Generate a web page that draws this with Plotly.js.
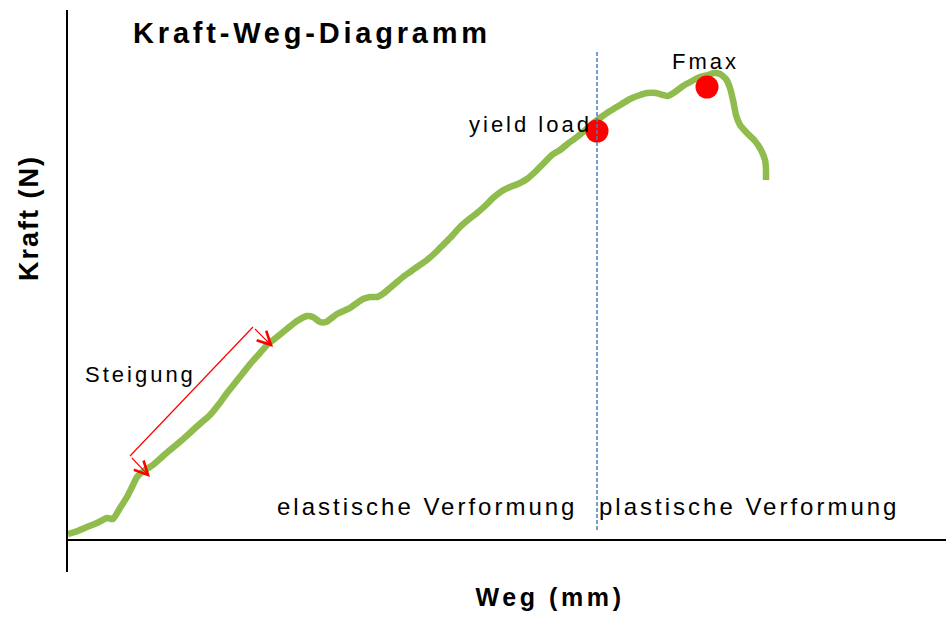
<!DOCTYPE html>
<html>
<head>
<meta charset="utf-8">
<script src="https://cdn.plot.ly/plotly-3.0.1.min.js"></script>
<style>
  html, body { margin: 0; padding: 0; background: #ffffff; overflow: hidden; }
  #chart { width: 946px; height: 617px; }
  .gtitle { letter-spacing: 3.8px; }
  .x2title { letter-spacing: 3.6px; }
  .y2title { letter-spacing: 2px; }
  .annotation-text { letter-spacing: 3px; }
</style>
</head>
<body>
<div id="chart"></div>
<script>
// ---- data (arbitrary units) ----
const weg = [0, 7, 19, 29, 39, 45, 52, 59, 64, 69, 77, 85, 94, 102, 114, 125, 134, 142, 151, 159,
  167, 175, 183, 192, 200, 209, 220, 229, 239, 245, 252, 258, 269, 282, 289, 295, 302, 309, 316, 322,
  329, 335, 342, 349, 359, 367, 375, 384, 392, 400, 409, 417, 425, 434, 442, 450, 459, 467, 475, 484,
  492, 502, 509, 515, 524, 532, 542, 552, 562, 572, 579, 588, 595, 600, 607, 615, 624, 632, 640, 646,
  652, 658, 662, 665, 668, 672, 679, 687, 693, 697, 698, 698];
const kraft = [6, 8, 13, 17, 22, 21, 32, 43, 53, 63, 70, 75, 83, 90, 100, 110, 118, 125, 136, 147,
  157, 167, 177, 187, 196, 203, 212, 219, 224, 223, 218, 218, 226, 232, 237, 241, 243, 243, 247, 252,
  258, 263, 268, 273, 280, 287, 295, 304, 313, 320, 327, 334, 342, 349, 353, 356, 361, 368, 376, 385,
  390, 398, 403, 408, 416, 422, 429, 435, 441, 445, 447, 447, 445, 444, 448, 454, 459, 463, 465, 467,
  466, 461, 452, 440, 425, 415, 407, 399, 390, 380, 370, 360];

const pointLabels = ['yield load', 'Fmax'];
const pointWeg = [529, 639];
const pointKraft = [409, 453];

const yieldLineWeg = 529;
const yieldLineKraft = [10, 490];

const slopeCornerWeg = [62, 185];
const slopeCornerKraft = [84, 213];
const slopeTipWeg = [82, 205];
const slopeTipKraft = [63, 193];

const regionLabels = ['elastische Verformung', 'plastische Verformung'];
const regionWeg = [359, 681];
const regionKraft = [34, 34];

const titleText = 'Kraft-Weg-Diagramm';
const xTitle = 'Weg (mm)';
const yTitle = 'Kraft (N)';
const slopeLabel = 'Steigung';

// ---- styling ----
const FONT = 'Liberation Sans, Arial, Helvetica, sans-serif';
const GREEN = '#8FBC4C';
const RED = '#FF0000';

const traces = [
  {
    type: 'scatter', mode: 'lines', x: weg, y: kraft,
    line: { color: GREEN, width: 6.5, shape: 'spline', smoothing: 0.5 }, hoverinfo: 'skip', cliponaxis: true
  },
  {
    type: 'scatter', mode: 'markers', x: pointWeg, y: pointKraft,
    marker: { color: RED, size: 23, line: { width: 0 } }, hoverinfo: 'skip', cliponaxis: false
  },
  // empty traces so that the title-carrying axes are drawn
  { type: 'scatter', mode: 'markers', x: [], y: [], xaxis: 'x2', yaxis: 'y', hoverinfo: 'skip' },
  { type: 'scatter', mode: 'markers', x: [], y: [], xaxis: 'x', yaxis: 'y2', hoverinfo: 'skip' }
];

const annotations = [];
for (let i = 0; i < 2; i++) {
  annotations.push({
    x: slopeTipWeg[i], y: slopeTipKraft[i], xref: 'x', yref: 'y',
    ax: slopeCornerWeg[i], ay: slopeCornerKraft[i], axref: 'x', ayref: 'y',
    text: ' ', font: { size: 1 }, showarrow: true,
    arrowhead: 5, arrowsize: 2.4, arrowwidth: 1.1, arrowcolor: RED,
    standoff: 0, startstandoff: 0
  });
}
annotations.push({
  x: 462, y: 416, xref: 'x', yref: 'y', text: pointLabels[0], showarrow: false,
  xanchor: 'center', yanchor: 'middle', font: { family: FONT, size: 22, color: '#000' }
});
annotations.push({
  x: 637, y: 479, xref: 'x', yref: 'y', text: pointLabels[1], showarrow: false,
  xanchor: 'center', yanchor: 'middle', font: { family: FONT, size: 22, color: '#000' }
});
annotations.push({
  x: 72, y: 166, xref: 'x', yref: 'y', text: slopeLabel, showarrow: false,
  xanchor: 'center', yanchor: 'middle', font: { family: FONT, size: 22, color: '#000' }
});
for (let i = 0; i < 2; i++) {
  annotations.push({
    x: regionWeg[i], y: regionKraft[i], xref: 'x', yref: 'y', text: regionLabels[i], showarrow: false,
    xanchor: 'center', yanchor: 'middle', font: { family: FONT, size: 24, color: '#000' }
  });
}

const shapes = [
  {
    type: 'line', xref: 'x', yref: 'y',
    x0: yieldLineWeg, x1: yieldLineWeg, y0: yieldLineKraft[0], y1: yieldLineKraft[1],
    line: { color: '#4A7EBB', width: 1.5, dash: '4px,2px' }
  },
  {
    type: 'line', xref: 'x', yref: 'y',
    x0: slopeCornerWeg[0], y0: slopeCornerKraft[0], x1: slopeCornerWeg[1], y1: slopeCornerKraft[1],
    line: { color: RED, width: 1.2 }
  }
];

const hiddenAxis = {
  showline: false, showgrid: false, zeroline: false, showticklabels: false, ticks: '', fixedrange: true
};

const layout = {
  width: 946, height: 617,
  margin: { l: 68, r: 0, t: 10, b: 45, pad: 0 },
  paper_bgcolor: '#ffffff', plot_bgcolor: 'rgba(0,0,0,0)',
  showlegend: false, hovermode: false,
  title: {
    text: titleText, font: { family: FONT, size: 29, color: '#000', weight: 'bold' },
    x: 312 / 946, xanchor: 'center', xref: 'container',
    y: 1 - 33 / 617, yanchor: 'middle', yref: 'container'
  },
  xaxis: Object.assign({}, hiddenAxis, { range: [0, 878] }),
  yaxis: Object.assign({}, hiddenAxis, {
    range: [-32, 530], showline: true, linecolor: '#000', linewidth: 2,
    zeroline: true, zerolinecolor: '#000', zerolinewidth: 2
  }),
  xaxis2: Object.assign({}, hiddenAxis, {
    domain: [0.098, 1], anchor: 'y', range: [0, 1],
    title: { text: xTitle, font: { family: FONT, size: 25, color: '#000', weight: 'bold' }, standoff: 16 }
  }),
  yaxis2: Object.assign({}, hiddenAxis, {
    domain: [0.26, 1], anchor: 'x', range: [0, 1],
    title: { text: yTitle, font: { family: FONT, size: 27, color: '#000', weight: 'bold' }, standoff: 20 }
  }),
  shapes: shapes,
  annotations: annotations
};

Plotly.newPlot('chart', traces, layout, { displayModeBar: false, staticPlot: true });
</script>
</body>
</html>
